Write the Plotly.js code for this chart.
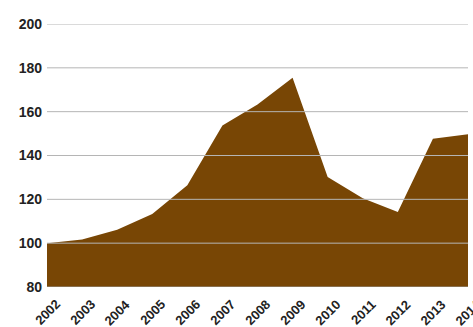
<!DOCTYPE html>
<html>
<head>
<meta charset="utf-8">
<script src="https://cdn.plot.ly/plotly-3.0.1.min.js"></script>
<style>html,body{margin:0;padding:0;background:#fff;}#chart{width:473px;height:327px;}</style>
</head>
<body>
<div id="chart"></div>
<script>
var years = [2002, 2003, 2004, 2005, 2006, 2007, 2008, 2009, 2010, 2011, 2012, 2013, 2014];
var values = [100, 101.7, 106.1, 113.3, 126.4, 153.7, 163.3, 175.5, 130.2, 120.5, 114.2, 147.6, 149.7];
var yTicks = [80, 100, 120, 140, 160, 180, 200];
var yTickLabels = ['80', '100', '120', '140', '160', '180', '200'];
var xTickLabels = ['2002', '2003', '2004', '2005', '2006', '2007', '2008', '2009', '2010', '2011', '2012', '2013', '2014'];

var fontFam = 'Liberation Sans, Arial, sans-serif';

var trace = {
  x: years,
  y: values,
  type: 'scatter',
  mode: 'lines',
  fill: 'tozeroy',
  fillcolor: '#784605',
  line: {color: '#784605', width: 0},
  hoverinfo: 'skip'
};

var shapes = yTicks.filter(function(v){return v > 80;}).map(function(v){
  return {type: 'line', xref: 'paper', yref: 'y', x0: 0, x1: 1, y0: v, y1: v,
          line: {color: '#b5b5b5', width: 1}, layer: 'above'};
});
shapes.push({type: 'line', xref: 'paper', yref: 'y', x0: 0, x1: 1, y0: 80, y1: 80,
             line: {color: '#9a9a9a', width: 1}, layer: 'above'});

var annotations = years.map(function(yr, i){
  return {x: yr, y: 0, xref: 'x', yref: 'paper', text: xTickLabels[i],
          showarrow: false, textangle: -45, xanchor: 'center', yanchor: 'middle',
          yshift: -25, font: {family: fontFam, size: 13, color: '#222', weight: 'bold'}};
});

var layout = {
  width: 473, height: 327,
  margin: {l: 47, r: 5, t: 24, b: 40, pad: 0},
  paper_bgcolor: '#ffffff', plot_bgcolor: '#ffffff',
  showlegend: false,
  xaxis: {range: [2002, 2014], showgrid: false, zeroline: false, showticklabels: false,
          ticks: '', showline: false, fixedrange: true},
  yaxis: {range: [80, 200], tickvals: yTicks, ticktext: yTickLabels, showgrid: false,
          zeroline: false, showline: false, ticks: '', ticklabelstandoff: 4,
          tickfont: {family: fontFam, size: 14, color: '#222', weight: 'bold'}, fixedrange: true},
  shapes: shapes,
  annotations: annotations
};

Plotly.newPlot('chart', [trace], layout, {displayModeBar: false, staticPlot: true});
</script>
</body>
</html>
